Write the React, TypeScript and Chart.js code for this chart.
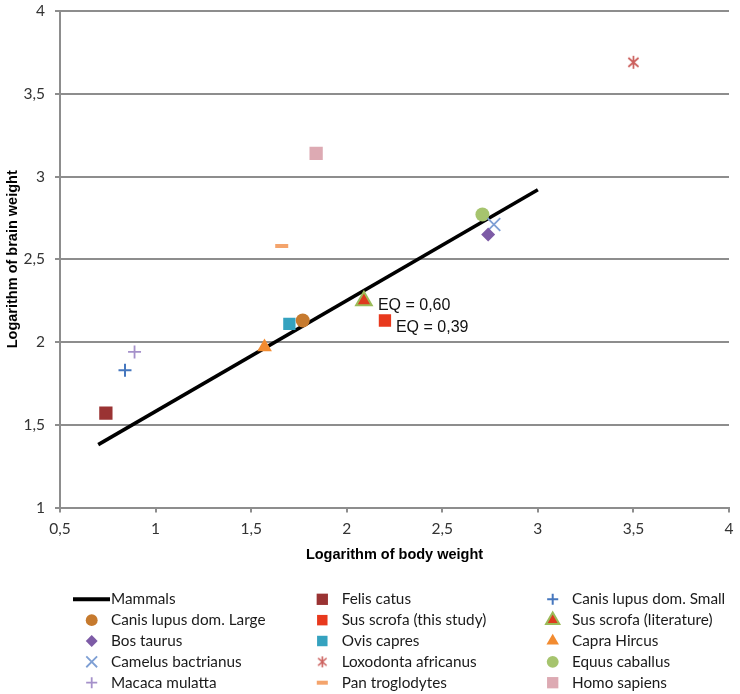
import React, { useEffect, useRef } from 'react';
import { Chart, registerables } from 'chart.js';
import { drawPoint } from 'chart.js/helpers';

Chart.register(...registerables);

// ---- Data ----
const mammalsLabel = 'Mammals';
const mammalsX = [0.7, 3.0];
const mammalsY = [1.38, 2.92];

const speciesNames = [
  'Felis catus',
  'Canis lupus dom. Small',
  'Canis lupus dom. Large',
  'Sus scrofa (this study)',
  'Sus scrofa (literature)',
  'Bos taurus',
  'Ovis capres',
  'Capra Hircus',
  'Camelus bactrianus',
  'Loxodonta africanus',
  'Equus caballus',
  'Macaca mulatta',
  'Pan troglodytes',
  'Homo sapiens',
];
const bodyWeightLog = [0.74, 0.84, 1.77, 2.2, 2.09, 2.74, 1.7, 1.57, 2.77, 3.5, 2.71, 0.89, 1.66, 1.84];
const brainWeightLog = [1.57, 1.83, 2.13, 2.13, 2.25, 2.65, 2.11, 1.97, 2.71, 3.69, 2.77, 1.94, 2.58, 3.14];

const eqLabels = ['', '', '', 'EQ = 0,39', 'EQ = 0,60', '', '', '', '', '', '', '', '', ''];

const xTicks = [0.5, 1, 1.5, 2, 2.5, 3, 3.5, 4];
const yTicks = [1, 1.5, 2, 2.5, 3, 3.5, 4];
const xTitle = 'Logarithm of body weight';
const yTitle = 'Logarithm of brain weight';

// ---- Styles ----
function makeStar(color: string, size: number, lw: number): HTMLCanvasElement {
  const c = document.createElement('canvas');
  c.width = size;
  c.height = size;
  const ctx = c.getContext('2d')!;
  ctx.strokeStyle = color;
  ctx.lineWidth = lw;
  const m = size / 2;
  const a = size / 2 - 1.5;
  ctx.beginPath();
  ctx.moveTo(m - a * 0.85, m - a * 0.75);
  ctx.lineTo(m + a * 0.85, m + a * 0.75);
  ctx.moveTo(m + a * 0.85, m - a * 0.75);
  ctx.lineTo(m - a * 0.85, m + a * 0.75);
  ctx.moveTo(m, m - a - 0.5);
  ctx.lineTo(m, m + a + 0.5);
  ctx.stroke();
  return c;
}

type Sty = { style: any; r: number; fill: string; border: string; bw: number };
const starImg = makeStar('#CB5F5C', 15, 1.7);
const starImgLegend = makeStar('#CB5F5C', 13, 1.6);

const speciesStyles: Sty[] = [
  { style: 'rect', r: 9.4, fill: '#9A3333', border: '#9A3333', bw: 0 },
  { style: 'cross', r: 6.5, fill: '#4677BE', border: '#4677BE', bw: 2 },
  { style: 'circle', r: 7, fill: '#C67A2E', border: '#C67A2E', bw: 0 },
  { style: 'rect', r: 8.7, fill: '#E8391D', border: '#E8391D', bw: 0 },
  { style: 'triangle', r: 9, fill: '#DE3A1E', border: '#9BBB59', bw: 2 },
  { style: 'rectRot', r: 7, fill: '#7D5BA6', border: '#7D5BA6', bw: 0 },
  { style: 'rect', r: 8.7, fill: '#35A2BF', border: '#35A2BF', bw: 0 },
  { style: 'triangle', r: 8.5, fill: '#F28B30', border: '#F28B30', bw: 0 },
  { style: 'crossRot', r: 9, fill: '#7E9FD4', border: '#7E9FD4', bw: 1.8 },
  { style: starImg, r: 7, fill: '#CB5F5C', border: '#CB5F5C', bw: 0 },
  { style: 'circle', r: 7, fill: '#A6C46E', border: '#A6C46E', bw: 0 },
  { style: 'cross', r: 6.5, fill: '#A591CA', border: '#A591CA', bw: 1.8 },
  { style: 'line', r: 6.5, fill: '#F4A46C', border: '#F4A46C', bw: 4 },
  { style: 'rect', r: 9.4, fill: '#DDAAB3', border: '#DDAAB3', bw: 0 },
];

const GRID = '#8d8d8d';
const TICK_FONT = { family: 'Lato', size: 15.5 };
const TITLE_FONT = { family: 'Liberation Sans, Arial', size: 14.5, weight: 'bold' as const };

const fmt = (v: number) => String(v).replace('.', ',');

// EQ labels plugin
const eqPlugin = {
  id: 'eqLabels',
  afterDatasetsDraw(chart: any) {
    const ctx = chart.ctx;
    ctx.save();
    ctx.font = '16px "Liberation Sans", Arial';
    ctx.fillStyle = '#111';
    ctx.textBaseline = 'middle';
    ctx.textAlign = 'left';
    eqLabels.forEach((t, i) => {
      if (!t) return;
      const meta = chart.getDatasetMeta(i + 1);
      const el = meta.data[0];
      if (!el) return;
      const dx = speciesStyles[i].style === 'triangle' ? 14 : 11;
      const dy = speciesStyles[i].style === 'triangle' ? 5 : 7;
      ctx.fillText(t, el.x + dx, el.y + dy);
    });
    ctx.restore();
  },
};

// Legend plugin (3 columns)
const legendPlugin = {
  id: 'gridLegend',
  afterDraw(chart: any) {
    const ctx = chart.ctx;
    const markerX = [91.7, 322.3, 552.7];
    const textX = [111, 341.7, 572];
    const y0 = 599.3;
    const dy = 20.85;
    const labels = [mammalsLabel, ...speciesNames];
    ctx.save();
    labels.forEach((lab, i) => {
      const col = i % 3;
      const row = Math.floor(i / 3);
      const y = y0 + row * dy;
      if (i === 0) {
        ctx.beginPath();
        ctx.strokeStyle = '#000';
        ctx.lineWidth = 4;
        ctx.moveTo(73, y);
        ctx.lineTo(110, y);
        ctx.stroke();
      } else {
        const s = speciesStyles[i - 1];
        ctx.save();
        ctx.fillStyle = s.fill;
        ctx.strokeStyle = s.border;
        ctx.lineWidth = s.bw;
        const style = s.style === starImg ? starImgLegend : s.style;
        drawPoint(ctx, { pointStyle: style, radius: s.r * 0.85, rotation: 0, borderWidth: s.bw } as any, markerX[col], y);
        ctx.restore();
      }
      ctx.fillStyle = '#1a1a1a';
      ctx.font = '15.3px Lato';
      ctx.textBaseline = 'middle';
      ctx.textAlign = 'left';
      ctx.fillText(lab, textX[col], y);
    });
    ctx.restore();
  },
};

export default function App() {
  const ref = useRef<HTMLCanvasElement | null>(null);
  useEffect(() => {
    if (!ref.current) return;
    const datasets: any[] = [
      {
        type: 'line',
        label: mammalsLabel,
        data: mammalsX.map((x, i) => ({ x, y: mammalsY[i] })),
        borderColor: '#000',
        borderWidth: 3.6,
        pointRadius: 0,
        showLine: true,
        order: 2,
      },
      ...speciesNames.map((name, i) => {
        const s = speciesStyles[i];
        return {
          type: 'scatter',
          label: name,
          data: [{ x: bodyWeightLog[i], y: brainWeightLog[i] }],
          pointStyle: s.style,
          pointRadius: s.r,
          pointBackgroundColor: s.fill,
          pointBorderColor: s.border,
          pointBorderWidth: s.bw,
          order: 1,
        };
      }),
    ];
    const chart = new Chart(ref.current, {
      type: 'scatter',
      data: { datasets },
      options: {
        animation: false,
        responsive: false,
        events: [],
        layout: { padding: { left: 0, right: 8, top: 9, bottom: 126.5 } },
        plugins: { legend: { display: false }, tooltip: { enabled: false } },
        scales: {
          x: {
            type: 'linear',
            min: 0.5,
            max: 4,
            afterBuildTicks: (scale: any) => {
              scale.ticks = xTicks.map((v) => ({ value: v }));
            },
            afterFit: (scale: any) => {
              scale.height = 60;
              scale.paddingLeft = 0;
              scale.paddingRight = 0;
            },
            ticks: { font: TICK_FONT, color: '#333', padding: 7, callback: (v: any) => fmt(v), maxRotation: 0 },
            grid: { drawOnChartArea: false, drawTicks: true, tickLength: 5, color: GRID, lineWidth: 2 },
            border: { display: true, color: GRID, width: 2 },
            title: { display: true, text: xTitle, font: TITLE_FONT, color: '#000', padding: { top: 0, bottom: 4 } },
          },
          y: {
            type: 'linear',
            min: 1,
            max: 4,
            afterBuildTicks: (scale: any) => {
              scale.ticks = yTicks.map((v) => ({ value: v }));
            },
            afterFit: (scale: any) => {
              scale.width = 60;
              scale.paddingTop = 0;
              scale.paddingBottom = 0;
            },
            ticks: { font: TICK_FONT, color: '#333', padding: 10, callback: (v: any) => fmt(v) },
            grid: { color: GRID, lineWidth: 2, drawTicks: true, tickLength: 5 },
            border: { display: true, color: GRID, width: 2 },
            title: { display: true, text: yTitle, font: TITLE_FONT, color: '#000', padding: { top: 4, bottom: 0 } },
          },
        },
      },
      plugins: [eqPlugin, legendPlugin],
    } as any);
    return () => chart.destroy();
  }, []);
  return (
    <div style={{ position: 'absolute', left: 0, top: 0, width: 740, height: 694, background: '#fff' }}>
      <canvas ref={ref} width={740} height={694} style={{ display: 'block' }} />
    </div>
  );
}
